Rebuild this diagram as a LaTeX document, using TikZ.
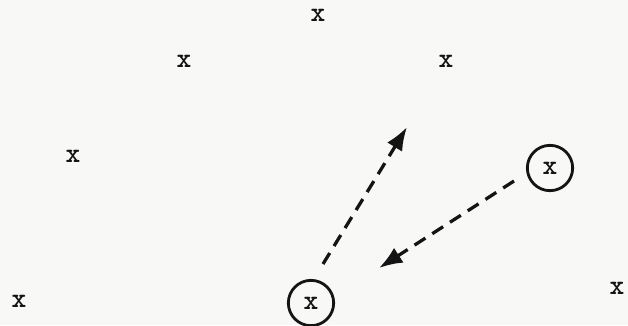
\documentclass[tikz,border=0pt]{standalone}
\usepackage{fontspec}
\usetikzlibrary{arrows.meta}

\definecolor{paper}{RGB}{248,248,247}
\definecolor{ink}{RGB}{20,20,20}

\begin{document}
\begin{tikzpicture}[x=0.03cm, y=-0.03cm,
    every node/.style={font=\ttfamily\bfseries\fontsize{24}{24}\selectfont, text=ink},
    site/.style={inner sep=0pt},
    picked/.style={circle, draw=ink, line width=2.4pt, minimum size=1.36cm, inner sep=0pt},
    move/.style={draw=ink, line width=2.8pt, dash pattern=on 11pt off 7pt,
                 -{Latex[length=20pt,width=15pt]}}]
      \useasboundingbox[fill=paper] (0,0) rectangle (628,325);

      % plain sites
      \node[site] (p1) at (318,15) {x};
      \node[site] (p2) at (184,61) {x};
      \node[site] (p3) at (446,61) {x};
      \node[site] (p4) at (73,156) {x};
      \node[site] (p5) at (19,301) {x};
      \node[site] (p6) at (617,288) {x};

      % circled sites
      \node[picked] (ca) at (550,168) {x};
      \node[picked] (cb) at (311,303) {x};

      % moves
      \coordinate (s1) at (323,264);
      \coordinate (t1) at (407,127);
      \coordinate (s2) at (514,181);
      \coordinate (t2) at (379,268);
      \draw[move] (s1) -- (t1);
      \draw[move] (s2) -- (t2);
    \end{tikzpicture}
\end{document}
